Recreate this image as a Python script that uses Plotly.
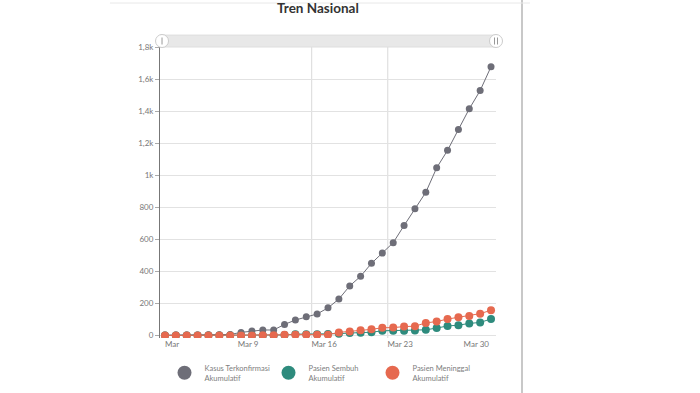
import plotly.graph_objects as go

# ---- data ----
dates = [f"2020-03-{d:02d}" for d in range(2, 32)] + ["2020-04-01"]
kasus = [2, 2, 2, 2, 4, 4, 6, 19, 27, 34, 34, 69, 96, 117, 134, 172, 227, 309, 369,
         450, 514, 579, 686, 790, 893, 1046, 1155, 1285, 1414, 1528, 1677]
sembuh = [0, 0, 0, 0, 0, 0, 0, 0, 0, 0, 0, 3, 8, 8, 8, 9, 11, 15, 16, 20, 29, 30,
          30, 31, 35, 46, 59, 64, 75, 81, 103]
meninggal = [0, 0, 0, 0, 0, 0, 0, 0, 0, 1, 1, 4, 5, 5, 5, 5, 19, 25, 32, 38, 48,
             49, 55, 58, 78, 87, 102, 114, 122, 136, 157]
series_names = ["Kasus Terkonfirmasi<br>Akumulatif", "Pasien Sembuh<br>Akumulatif",
                "Pasien Meninggal<br>Akumulatif"]
x_tick_vals = ["2020-03-02", "2020-03-09", "2020-03-16", "2020-03-23", "2020-03-30"]
x_tick_text = ["Mar", "Mar 9", "Mar 16", "Mar 23", "Mar 30"]
y_tick_vals = [0, 200, 400, 600, 800, 1000, 1200, 1400, 1600, 1800]
y_tick_text = ["0", "200", "400", "600", "800", "1k", "1,2k", "1,4k", "1,6k", "1,8k"]
grid_dates = ["2020-03-15 12:00", "2020-03-22 12:00"]

colors = ["#6e6e78", "#2e8b7d", "#e6694f"]
sizes = [7, 8, 8]

fig = go.Figure()
for vals, name, col, sz in zip([kasus, sembuh, meninggal], series_names, colors, sizes):
    fig.add_trace(go.Scatter(
        x=dates, y=vals, mode="lines+markers", name=name, showlegend=False,
        line=dict(color=col, width=1), marker=dict(color=col, size=sz)))
for name, col in zip(series_names, colors):
    fig.add_trace(go.Scatter(
        x=[None], y=[None], mode="markers", name=name,
        marker=dict(color=col, size=14)))

font_fam = "Lato, 'Open Sans', sans-serif"

shapes = []
for gd in grid_dates:
    shapes.append(dict(type="line", xref="x", yref="paper", x0=gd, x1=gd, y0=0, y1=1,
                       line=dict(color="#d9d9d9", width=1), layer="below"))
# scrollbar
shapes.append(dict(type="rect", xref="paper", yref="paper", x0=0, x1=1, y0=1.0, y1=1.041,
                   fillcolor="#e8e8e8", line=dict(color="#dedede", width=1)))
for xa in [0.006, 1.0]:
    shapes.append(dict(type="circle", xref="paper", yref="paper", xsizemode="pixel",
                       ysizemode="pixel", xanchor=xa, yanchor=1.0206, x0=-6.5, x1=6.5,
                       y0=-6.5, y1=6.5, fillcolor="white", line=dict(color="#cccccc", width=1)))
for xa, off in [(0.006, 0), (1.0, -1.5), (1.0, 1.5)]:
    shapes.append(dict(type="line", xref="paper", yref="paper", xsizemode="pixel",
                       ysizemode="pixel", xanchor=xa, yanchor=1.0206, x0=off, x1=off,
                       y0=-3.5, y1=3.5, line=dict(color="#999999", width=1)))
# frame lines
shapes.append(dict(type="line", xref="paper", yref="paper", x0=1.0774, x1=1.0774,
                   y0=-0.19, y1=1.165, line=dict(color="#c8c8c8", width=2)))
shapes.append(dict(type="line", xref="paper", yref="paper", x0=-0.149, x1=1.101,
                   y0=1.1512, y1=1.1512, line=dict(color="#e8e8e8", width=1)))

fig.update_layout(
    width=700, height=393,
    margin=dict(l=160, r=204, t=47, b=55, pad=0),
    paper_bgcolor="white", plot_bgcolor="white",
    font=dict(family=font_fam, size=8, color="#777777"),
    title=dict(text="Tren Nasional", x=0.47, xref="paper", xanchor="center",
               y=0.98, yref="container", yanchor="middle",
               font=dict(family=font_fam, size=13.5, color="#333333", weight="bold")),
    xaxis=dict(type="date", range=["2020-03-01 13:00", "2020-04-01 11:00"],
               tickvals=x_tick_vals, ticktext=x_tick_text, showgrid=False,
               zeroline=False, showline=False, ticks="", ticklabelshift=7,
               ticklabelstandoff=0, automargin=False,
               tickfont=dict(size=8, color="#777777")),
    yaxis=dict(range=[-16, 1800], tickvals=y_tick_vals, ticktext=y_tick_text,
               showgrid=True, gridcolor="#e2e2e2", gridwidth=1, zeroline=False,
               showline=True, linecolor="#777777", linewidth=1, automargin=False,
               ticks="outside", ticklen=4, tickcolor="#aaaaaa",
               tickfont=dict(size=8, color="#777777")),
    legend=dict(orientation="h", xref="container", yref="container",
                x=0.235, xanchor="left", y=0.0509, yanchor="middle",
                font=dict(size=7.5, color="#808080"), entrywidth=59,
                bgcolor="rgba(0,0,0,0)", itemsizing="trace"),
    shapes=shapes,
    showlegend=True,
)

fig.write_html("out.html", config={"displayModeBar": False},
               post_script="document.body.style.margin='0px';")
